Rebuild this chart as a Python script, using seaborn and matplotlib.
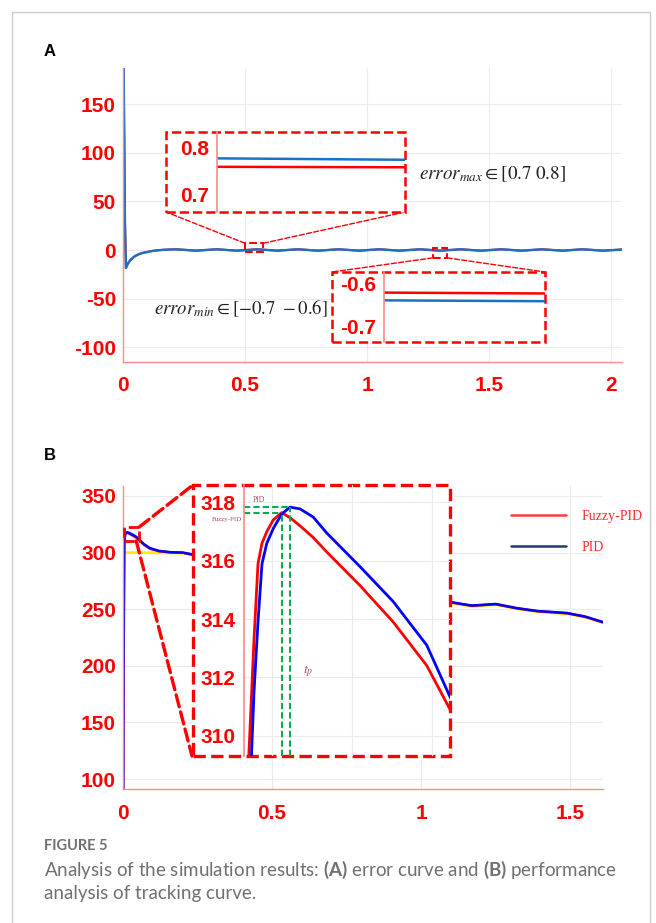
import numpy as np
import matplotlib
matplotlib.use('Agg')
import matplotlib.pyplot as plt
import seaborn as sns
from matplotlib.patches import Rectangle, ConnectionPatch
from matplotlib.lines import Line2D

# ---------------- data: panel A (error curve) ----------------
err_t = [0, 0.004, 0.008, 0.012, 0.02, 0.03, 0.045, 0.06, 0.08, 0.1, 0.12, 0.14, 0.17,
         0.217, 0.3, 0.383, 0.467, 0.55, 0.633, 0.717, 0.8, 0.883, 0.967, 1.05, 1.133,
         1.217, 1.3, 1.383, 1.467, 1.55, 1.633, 1.717, 1.8, 1.883, 1.967, 2.05]
err_pid = [300, 150, 30, -18.5, -14, -10.5, -7, -4.8, -3, -2, -1, -0.3, 0.3,
           0.76, -0.62, 0.77, -0.63, 0.775, -0.64, 0.77, -0.64, 0.77, -0.64, 0.775, -0.64,
           0.77, -0.642, 0.77, -0.64, 0.77, -0.64, 0.77, -0.64, 0.77, -0.64, 0.6]
err_fuzzy = [300, 148, 29, -18.2, -13.8, -10.3, -6.9, -4.7, -2.9, -1.9, -0.9, -0.3, 0.3,
             0.75, -0.61, 0.755, -0.615, 0.758, -0.62, 0.756, -0.62, 0.757, -0.62, 0.758, -0.62,
             0.756, -0.623, 0.756, -0.62, 0.756, -0.62, 0.756, -0.62, 0.756, -0.62, 0.58]

# zoom windows of panel A
zoom1_t = [0.50, 0.575]
zoom1_pid = [0.776, 0.773]
zoom1_fuzzy = [0.758, 0.757]
zoom1_ylim = (0.662, 0.832)
zoom1_src = (0.50, -2, 0.075, 9)        # t0, y0, width, height in the main axes
zoom2_t = [1.27, 1.328]
zoom2_pid = [-0.640, -0.642]
zoom2_fuzzy = [-0.622, -0.624]
zoom2_ylim = (-0.737, -0.574)
zoom2_src = (1.27, -8, 0.058, 10)

a_yticks = [-100, -50, 0, 50, 100, 150]
a_xticks = [0, 0.5, 1, 1.5, 2]
a_xlabels = ['0', '0.5', '1', '1.5', '2']

# ---------------- data: panel B (tracking curve) ----------------
trk_t = [0, 0.002, 0.0042, 0.0055, 0.0065, 0.0075, 0.0087, 0.0103, 0.0124, 0.0145, 0.017,
         0.0203, 0.0237, 0.032, 0.0403, 0.0487, 0.0545, 0.07, 0.09, 0.12, 0.16, 0.2, 0.25,
         0.3, 0.4, 0.5, 0.6, 0.7, 0.8, 0.9, 1.0, 1.1, 1.17, 1.25, 1.32, 1.39, 1.49, 1.55, 1.61]
trk_pid = [0, 200, 307, 311.5, 313.9, 315.9, 316.6, 317.1, 317.6, 317.84, 317.78,
           317.5, 316.95, 315.8, 314.6, 313.1, 311.33, 307.5, 304, 301.5, 300.3, 300, 297.5,
           294, 289, 284, 279, 274, 269.5, 265, 260.5, 256.2, 253.2, 254.6, 251, 248.4, 246.6, 243.5, 238.6]
trk_fuzzy = [0, 230, 309.3, 313.3, 315.9, 316.6, 317.0, 317.4, 317.65, 317.48, 317.2,
             316.8, 316.3, 315.15, 313.9, 312.4, 310.9, 307, 303.5, 301.2, 300.2, 299.9, 297.3,
             293.8, 288.8, 283.8, 278.8, 273.8, 269.3, 264.8, 260.3, 256.0, 253.0, 254.4, 250.8, 248.2, 246.4, 243.3, 238.4]
ref_t = [0, 0.2, 0.25, 0.3, 0.4, 0.5, 0.6, 0.7, 0.8, 0.9, 1.0, 1.1, 1.17, 1.25, 1.32,
         1.39, 1.49, 1.55, 1.61]
ref_y = [300, 299.6, 297, 293.5, 288.5, 283.5, 278.5, 273.5, 269, 264.5, 260, 255.6, 252.6,
         254.0, 250.4, 247.8, 246.0, 242.9, 238.0]

zoomb_xlim = (0.003, 0.0545)
zoomb_ylim = (309.3, 318.6)
zoomb_yticks = [310, 312, 314, 316, 318]
zoomb_xgrid = [0.01, 0.03, 0.05]

b_yticks = [100, 150, 200, 250, 300, 350]
b_xticks = [0, 0.5, 1, 1.5]
b_xlabels = ['0', '0.5', '1', '1.5']

# ---------------- style ----------------
RED = '#ff0000'
SPINE = '#ff8c8c'
GRID = '#ebebeb'
ERR_BLUE = '#1a72c4'
BLUE = '#0000ff'
YELLOW = '#ffee00'
GREEN = '#00b050'
NOTE = '#a8505a'
TICK_SIZE = 15

sns.set_theme(style='white')
plt.rcParams['font.family'] = ['Liberation Sans', 'DejaVu Sans']
plt.rcParams['axes.unicode_minus'] = False

W, H = 656, 923
fig = plt.figure(figsize=(W / 100, H / 100), dpi=100)


def fx(px):
    return px / W


def fy(py):
    return 1 - py / H


def px_box(x0, y0, x1, y1):
    return [x0 / W, 1 - y1 / H, (x1 - x0) / W, (y1 - y0) / H]


def style_axes(ax, yticks, xticks=None, xlabels=None, ypad=5, xpad=10):
    for s in ['top', 'right']:
        ax.spines[s].set_visible(False)
    for s in ['left', 'bottom']:
        ax.spines[s].set_color(SPINE)
        ax.spines[s].set_linewidth(1.0)
    ax.set_yticks(yticks)
    ax.set_yticklabels([str(v) for v in yticks], fontsize=TICK_SIZE, fontweight='bold', color=RED)
    if xticks is not None:
        ax.set_xticks(xticks)
        ax.set_xticklabels(xlabels, fontsize=TICK_SIZE, fontweight='bold', color=RED)
    ax.tick_params(axis='y', direction='in', length=4, color=SPINE, pad=ypad)
    ax.tick_params(axis='x', direction='in', length=4, color=SPINE, pad=xpad)
    ax.grid(True, color=GRID, lw=0.8)
    ax.set_xlabel('')
    ax.set_ylabel('')


def fig_box(x0, y0, x1, y1, lw):
    r = Rectangle((fx(x0), fy(y1)), (x1 - x0) / W, (y1 - y0) / H, transform=fig.transFigure,
                  facecolor='white', edgecolor=RED, ls='--', lw=lw, zorder=3)
    fig.add_artist(r)


def connect(ax, xy, px, lw):
    c = ConnectionPatch(xyA=xy, coordsA=ax.transData, xyB=(fx(px[0]), fy(px[1])),
                        coordsB=fig.transFigure, color=RED, ls='--', lw=lw, zorder=2)
    fig.add_artist(c)


def inset_axes(x0, y0, x1, y1, xlim, ylim, yticks):
    ia = fig.add_axes(px_box(x0, y0, x1, y1))
    ia.set_zorder(5)
    ia.patch.set_alpha(0)
    for s in ['top', 'right', 'bottom']:
        ia.spines[s].set_visible(False)
    ia.spines['left'].set_color(SPINE)
    ia.set_xlim(*xlim)
    ia.set_ylim(*ylim)
    ia.set_yticks(yticks)
    ia.set_yticklabels([f'{v:g}' for v in yticks], fontsize=TICK_SIZE, fontweight='bold', color=RED)
    ia.tick_params(axis='y', direction='in', length=4, color=SPINE, pad=6)
    ia.tick_params(axis='x', length=0, labelbottom=False)
    ia.set_xlabel('')
    ia.set_ylabel('')
    return ia


# ---------------- panel A ----------------
ax1 = fig.add_axes(px_box(123, 68, 622, 362))
sns.lineplot(x=err_t, y=err_fuzzy, ax=ax1, color=RED, lw=1.5, estimator=None, sort=False)
sns.lineplot(x=err_t, y=err_pid, ax=ax1, color=ERR_BLUE, lw=1.7, estimator=None, sort=False)
ax1.set_xlim(0, 2.045)
ax1.set_ylim(-115, 187)
style_axes(ax1, a_yticks, a_xticks, a_xlabels)

for src in [zoom1_src, zoom2_src]:
    ax1.add_patch(Rectangle(src[:2], src[2], src[3], fill=False, ec=RED, ls='--', lw=1.5, zorder=4))

connect(ax1, (zoom1_src[0], zoom1_src[1] + zoom1_src[3]), (166, 212), 1.0)
connect(ax1, (zoom1_src[0] + zoom1_src[2], zoom1_src[1] + zoom1_src[3]), (405, 212), 1.0)
connect(ax1, (zoom2_src[0], zoom2_src[1]), (332, 272), 1.0)
connect(ax1, (zoom2_src[0] + zoom2_src[2], zoom2_src[1]), (545, 272), 1.0)

fig_box(166, 132, 405, 212, 1.8)
ia1 = inset_axes(217, 132, 405, 212, (zoom1_t[0], zoom1_t[1]), zoom1_ylim, [0.7, 0.8])
sns.lineplot(x=zoom1_t, y=zoom1_pid, ax=ia1, color=ERR_BLUE, lw=1.8, estimator=None)
sns.lineplot(x=zoom1_t, y=zoom1_fuzzy, ax=ia1, color=RED, lw=1.8, estimator=None)

fig_box(332, 272, 545, 342, 1.8)
ia2 = inset_axes(384, 272, 545, 342, (zoom2_t[0], zoom2_t[1]), zoom2_ylim, [-0.7, -0.6])
sns.lineplot(x=zoom2_t, y=zoom2_pid, ax=ia2, color=ERR_BLUE, lw=1.8, estimator=None)
sns.lineplot(x=zoom2_t, y=zoom2_fuzzy, ax=ia2, color=RED, lw=1.8, estimator=None)

fig.text(fx(419), fy(174), r'$error_{max} \in [0.7\ 0.8]$', math_fontfamily='stix',
         fontsize=13.7, color='#222222', va='center', ha='left')
fig.text(fx(154), fy(308), r'$error_{min} \in [-0.7\ -0.6]$', math_fontfamily='stix',
         fontsize=13.5, color='#222222', va='center', ha='left')

# ---------------- panel B ----------------
ax2 = fig.add_axes(px_box(123, 486, 603, 789))
sns.lineplot(x=ref_t, y=ref_y, ax=ax2, color=YELLOW, lw=2.0, estimator=None, sort=False)
sns.lineplot(x=trk_t, y=trk_fuzzy, ax=ax2, color=RED, lw=1.8, estimator=None, sort=False)
sns.lineplot(x=trk_t, y=trk_pid, ax=ax2, color=BLUE, lw=1.8, estimator=None, sort=False)
ax2.set_xlim(0, 1.61)
ax2.set_ylim(91.2, 358.8)
style_axes(ax2, b_yticks, b_xticks, b_xlabels, xpad=11)

ax2.add_patch(Rectangle((zoomb_xlim[0], zoomb_ylim[0] + 1), zoomb_xlim[1] - zoomb_xlim[0],
                        zoomb_ylim[1] - zoomb_ylim[0] + 3, fill=False, ec=RED, ls='--', lw=2,
                        clip_on=False, zorder=4))
connect(ax2, (zoomb_xlim[1], zoomb_ylim[1] + 4), (193, 485), 2.4)
connect(ax2, (zoomb_xlim[1] - 0.01, zoomb_ylim[0] + 1), (192, 756), 2.4)

leg_handles = [Line2D([], [], color='#ff3b3b', lw=1.8), Line2D([], [], color='#223a70', lw=1.8)]
ax2.legend(leg_handles, ['Fuzzy-PID', 'PID'], loc='upper left', bbox_to_anchor=(0.808, 0.92),
           frameon=False, handlelength=4, handletextpad=1.1, labelspacing=1.25, borderpad=0,
           borderaxespad=0, prop={'family': 'Liberation Serif', 'size': 10}, labelcolor='#ff2a2a')

fig_box(193, 485, 450, 756, 2.4)
ib = inset_axes(244, 485, 450, 756, zoomb_xlim, zoomb_ylim, zoomb_yticks)
ib.set_xticks(zoomb_xgrid)
ib.grid(True, color=GRID, lw=0.8)
sns.lineplot(x=trk_t, y=trk_fuzzy, ax=ib, color=RED, lw=2.0, estimator=None, sort=False)
sns.lineplot(x=trk_t, y=trk_pid, ax=ib, color=BLUE, lw=2.0, estimator=None, sort=False)

# peak markers (t_p)
inside = [i for i, t in enumerate(trk_t) if zoomb_xlim[0] <= t <= zoomb_xlim[1]]
for series in [trk_pid, trk_fuzzy]:
    k = max(inside, key=lambda i: series[i])
    pt, pv = trk_t[k], series[k]
    ib.plot([zoomb_xlim[0], pt], [pv, pv], color=GREEN, ls=(0, (3, 1.5)), lw=1.5)
    ib.plot([pt, pt], [zoomb_ylim[0], pv], color=GREEN, ls=(0, (3, 1.5)), lw=1.5)

ib.text(0.0052, 318.1, 'PID', family='Liberation Serif', fontsize=5.5, color=NOTE, va='center')
ib.text(0.0026, 317.42, 'Fuzzy-PID', family='Liberation Serif', fontsize=5, color=NOTE,
        va='center', ha='right', clip_on=False)
ib.text(0.0178, 312.2, r'$t_p$', math_fontfamily='stix', fontsize=10, color=NOTE, va='center')

# ---------------- labels, caption, frame ----------------
fig.text(fx(44), fy(52), 'A', fontsize=12, fontweight='bold', color='black', va='center')
fig.text(fx(44), fy(456), 'B', fontsize=12, fontweight='bold', color='black', va='center')

fig.text(fx(44), fy(846), 'FIGURE 5', family=['Lato', 'DejaVu Sans'], fontweight='bold',
         fontsize=10.5, color='#707070', va='center')
plt.rcParams['mathtext.bf'] = 'Lato:bold'
plt.rcParams['mathtext.rm'] = 'Lato'
cap1 = r'Analysis of the simulation results: $\mathbf{(A)}$ error curve and $\mathbf{(B)}$ performance'
fig.text(fx(44), fy(870), cap1, family=['Lato', 'DejaVu Sans'], fontsize=13.5, color='#707070',
         va='center', math_fontfamily='custom')
fig.text(fx(44), fy(893), 'analysis of tracking curve.', family=['Lato', 'DejaVu Sans'],
         fontsize=13.5, color='#707070', va='center')

fig.add_artist(Line2D([fx(12), fx(12), fx(650), fx(650)], [0, fy(12), fy(12), 0],
                      transform=fig.transFigure, color='#cccccc', lw=1))

fig.savefig('out.png', dpi=100)
